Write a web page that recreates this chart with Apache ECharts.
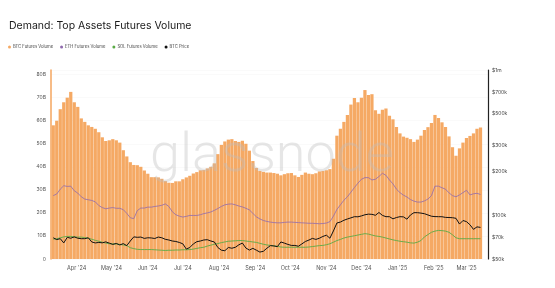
<!DOCTYPE html>
<html>
<head>
<meta charset="utf-8">
<script src="https://cdn.jsdelivr.net/npm/echarts@6/dist/echarts.min.js"></script>
<style>
  html, body { margin: 0; padding: 0; background: #fff; }
  #main { width: 555px; height: 288px; }
</style>
</head>
<body>
<div id="main"></div>
<script>
// one point every 3 days, from 12 Mar 2024
var startDate = Date.UTC(2024, 2, 12);
var stepDays = 3;

// BTC futures volume, billions (bars)
var btcVolume = [58, 60, 65, 68, 70, 72.5, 68, 66, 61, 59.5, 58, 57.3, 56.5, 55, 52.8, 51.2, 51.5, 52, 51.5, 50.5,
  47.2, 44.5, 42, 40.8, 40.7, 40, 38.4, 37, 35.5, 35.5, 35.4, 34.8, 33.8, 33.1, 33, 33.7, 33.7, 34.6, 35.4, 36.1,
  37.1, 37.7, 38.5, 38.6, 39.3, 40, 41.5, 45.5, 49.5, 51, 51.8, 52, 51.2, 50.8, 51.3, 50, 47, 42.5, 39.5, 38.2,
  37.8, 37.5, 37.5, 37.3, 37, 36.3, 36.8, 37.2, 37.3, 36.3, 35.6, 36.5, 37.5, 37, 36.8, 37.2, 38, 38.2, 38.5, 39,
  43.5, 53.5, 56.5, 59.5, 62.5, 67, 69.8, 68, 70, 73.3, 71.2, 71.5, 64.5, 63, 64.8, 65.3, 62.2, 60.6, 57.3, 54.5,
  53.1, 52.6, 52, 50.8, 51.8, 53.5, 56, 57.2, 59, 62.5, 61.2, 59.3, 57.3, 53.2, 48.5, 44.8, 48, 50.5, 52.5, 53.4,
  54.5, 56.5, 57];

// ETH futures volume, billions
var ethVolume = [27.5, 28.2, 30.3, 31.8, 31.5, 31.6, 29.6, 28.6, 27, 26, 25.7, 25.4, 24.8, 23.2, 22.3, 21.8, 22.1, 22.3, 22, 22,
  21.4, 19.8, 17.9, 17.5, 21, 22.1, 22.1, 22.5, 22.5, 22.8, 23, 23.3, 23.9, 22.8, 20.5, 19.2, 18.6, 18.2, 18.5, 18.9,
  18.9, 18.9, 19.2, 19.7, 20, 20.4, 21.1, 21.9, 22.8, 23.5, 23.8, 23.9, 23.5, 23, 22.6, 22, 21.3, 19.8, 18.3, 17.4,
  16.7, 16.3, 16, 15.8, 15.7, 15.7, 15.9, 16, 16, 15.9, 15.8, 15.7, 15.6, 15.5, 15.5, 15.4, 15.3, 15.4, 15.6, 16.2,
  18.6, 21.5, 23.5, 25.5, 27, 29, 31, 32.9, 34.6, 35.3, 35.3, 34.3, 34.6, 35.8, 37.2, 36.3, 34.3, 32.6, 30.3, 28.8,
  27.7, 26.9, 25.8, 25.1, 24.7, 24.7, 25.2, 26, 27.5, 31.6, 31.6, 30.9, 30.3, 28.7, 27.5, 27, 27.8, 28.8, 29.8, 27.8,
  28.3, 28.5, 28];

// SOL futures volume, billions
var solVolume = [8.6, 8.8, 9.2, 9.6, 9.8, 9.8, 9.6, 9.5, 9.5, 9.3, 9, 8.6, 8.1, 7.7, 7.3, 6.9, 6.6, 6.6, 6.5, 6.3,
  6.1, 5.8, 4.9, 4.5, 4.2, 4.1, 4.1, 4.1, 4.1, 4, 3.9, 3.8, 3.7, 3.8, 3.8, 3.9, 3.9, 4, 4, 4.1,
  4.3, 4.6, 4.9, 5.1, 5.6, 6, 6.4, 6.7, 7.1, 7.4, 7.7, 7.8, 7.9, 8, 8, 7.8, 7.6, 7.4, 7.2, 6.8,
  6.4, 6.1, 5.9, 5.7, 5.5, 5.2, 5.1, 5.1, 5.1, 5.1, 5.1, 5.1, 5.1, 5.2, 5.4, 5.6, 5.8, 5.9, 6.2, 6.6,
  7.3, 8, 8.5, 9.1, 9.5, 9.8, 10.1, 10.4, 10.7, 11, 10.8, 10.4, 10, 9.8, 9.5, 9.1, 8.7, 8.3, 8, 7.7,
  7.5, 7.3, 7, 6.9, 7.3, 8, 9.6, 10.6, 11.6, 12.1, 12.4, 12.3, 12.1, 11.6, 10.5, 9.2, 8.8, 8.8, 8.8, 8.8,
  8.8, 8.8, 8.8];

// BTC price, thousands of USD
var btcPrice = [70, 68, 69, 64.5, 70.5, 69.5, 71, 69.5, 69, 69, 70, 65.5, 64.5, 65, 64.6, 65.6, 64.3, 63, 64, 62.5,
  63.8, 61.8, 66.5, 71, 70.5, 70.8, 69.3, 70, 69.8, 69.2, 70.8, 70, 68.3, 67.6, 66.5, 66, 65, 63.6, 58.5, 60,
  63.5, 65.8, 66.5, 67.6, 67.9, 66.5, 65.5, 60, 57.5, 57, 60, 59.3, 60.2, 62.6, 64.4, 59.5, 57.6, 59.2, 57.5, 55.8,
  56.5, 59.3, 61.8, 61.5, 60.8, 65.5, 64.3, 63, 62, 62, 61.2, 63.5, 66, 67.5, 69.3, 68.2, 69.5, 71.5, 72.9, 69.5,
  78, 88.5, 89.8, 92.4, 94.3, 96, 97.8, 97.6, 99, 100.8, 101.8, 101.5, 100, 104.5, 99.8, 97.8, 97.8, 94.5, 96.5, 97.8,
  97.5, 94, 100.5, 104.2, 104.2, 103.5, 102.5, 100.5, 98.5, 97.9, 97.8, 97.7, 96.7, 96.5, 96.2, 95.3, 87, 92, 90.4, 86,
  80, 83.2, 82.5];

var priceTicks = [50000, 70000, 100000, 200000, 300000, 500000, 700000, 1000000];

var dates = [];
for (var i = 0; i < btcVolume.length; i++) {
  dates.push(startDate + i * stepDays * 86400000);
}
function pairs(arr, k) {
  return arr.map(function (v, i) { return [dates[i], v * (k || 1)]; });
}

var chart = echarts.init(document.getElementById('main'));

var option = {
  backgroundColor: '#fff',
  animation: false,
  title: {
    text: 'Demand: Top Assets Futures Volume',
    left: 9,
    top: 20,
    padding: 0,
    textStyle: { fontSize: 10.5, fontWeight: 'normal', color: '#1a1a1a', fontFamily: 'Inter' }
  },
  legend: {
    left: 8,
    top: 45,
    padding: 0,
    icon: 'circle',
    itemWidth: 3,
    itemHeight: 3,
    itemGap: 7,
    textStyle: { fontSize: 4.2, color: '#444', fontFamily: 'Inter', padding: [0, 0, 0, -3] },
    data: ['BTC Futures Volume', 'ETH Futures Volume', 'SOL Futures Volume', 'BTC Price']
  },
  grid: { left: 51, right: 67, top: 70, bottom: 29 },
  xAxis: {
    type: 'time',
    min: Date.UTC(2024, 2, 11, 12),
    max: Date.UTC(2025, 2, 18),
    minInterval: 28 * 86400000,
    maxInterval: 31 * 86400000,
    axisLine: { show: false },
    axisTick: { show: false },
    splitLine: { show: false },
    axisLabel: {
      formatter: "{MMM} '{yy}",
      fontSize: 5.5,
      color: '#555',
      margin: 6,
      fontFamily: 'Inter'
    }
  },
  yAxis: [
    {
      type: 'value',
      min: 0,
      max: 82,
      interval: 10,
      position: 'left',
      axisLine: { show: true, lineStyle: { color: '#f4a65f', width: 1.5 } },
      axisTick: { show: false },
      splitLine: { show: true, lineStyle: { color: '#f4f4f4', width: 0.5 } },
      axisLabel: {
        showMaxLabel: false,
        fontSize: 5,
        color: '#555',
        margin: 5,
        fontFamily: 'Inter',
        formatter: function (v) { return v === 0 ? '0' : v + 'B'; }
      }
    },
    {
      type: 'log',
      min: 50000,
      max: 1000000,
      position: 'right',
      axisLine: { show: true, lineStyle: { color: '#222', width: 1.2 } },
      axisTick: { show: false },
      splitLine: { show: false },
      axisLabel: {
        customValues: priceTicks,
        fontSize: 5,
        color: '#444',
        margin: 4,
        fontFamily: 'Inter',
        formatter: function (v) {
          return v >= 1000000 ? '$' + (v / 1000000) + 'm' : '$' + Math.round(v / 1000) + 'k';
        }
      }
    }
  ],
  series: [
    {
      name: 'BTC Futures Volume',
      type: 'bar',
      yAxisIndex: 0,
      barWidth: '93%',
      itemStyle: { color: '#f5a964' },
      data: pairs(btcVolume)
    },
    {
      name: 'ETH Futures Volume',
      type: 'line',
      yAxisIndex: 0,
      symbol: 'none',
      itemStyle: { color: '#8f6aae' },
      lineStyle: { width: 0.8 },
      data: pairs(ethVolume)
    },
    {
      name: 'SOL Futures Volume',
      type: 'line',
      yAxisIndex: 0,
      symbol: 'none',
      itemStyle: { color: '#5aaa45' },
      lineStyle: { width: 0.9 },
      data: pairs(solVolume)
    },
    {
      name: 'BTC Price',
      type: 'line',
      yAxisIndex: 1,
      symbol: 'none',
      itemStyle: { color: '#111' },
      lineStyle: { width: 1 },
      data: pairs(btcPrice, 1000)
    }
  ],
  graphic: [
    {
      type: 'text',
      left: 150,
      top: 130,
      z: 100,
      style: {
        text: 'glassnode',
        font: '300 54px Roboto',
        fill: 'rgba(190,190,190,0.38)'
      }
    }
  ]
};

chart.setOption(option);
</script>
</body>
</html>
